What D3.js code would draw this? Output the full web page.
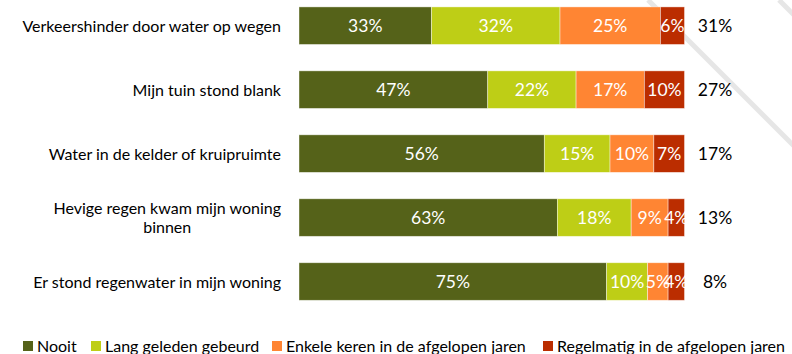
<!DOCTYPE html>
<html>
<head>
<meta charset="utf-8">
<script src="https://cdn.jsdelivr.net/npm/d3@7"></script>
<style>
  html, body { margin: 0; padding: 0; background: #fff; }
  svg { display: block; }
  text { font-family: Lato, "Open Sans", sans-serif; }
</style>
</head>
<body>
<svg id="chart" width="792" height="354"></svg>
<script>
// Categories (top to bottom)
const categories = [
  "Verkeershinder door water op wegen",
  "Mijn tuin stond blank",
  "Water in de kelder of kruipruimte",
  "Hevige regen kwam mijn woning binnen",
  "Er stond regenwater in mijn woning"
];
// Wrapped lines for category labels
const categoryLines = [
  ["Verkeershinder door water op wegen"],
  ["Mijn tuin stond blank"],
  ["Water in de kelder of kruipruimte"],
  ["Hevige regen kwam mijn woning", "binnen"],
  ["Er stond regenwater in mijn woning"]
];

// Series (percentages)
const seriesNames = ["Nooit", "Lang geleden gebeurd", "Enkele keren in de afgelopen jaren", "Regelmatig in de afgelopen jaren"];
const nooit       = [33, 47, 56, 63, 75];
const langGeleden = [32, 22, 15, 18, 10];
const enkele      = [25, 17, 10,  9,  5];
const regelmatig  = [ 6, 10,  7,  4,  4];
// Share "enkele keren" + "regelmatig" shown at the right
const recentTotal = [31, 27, 17, 13, 8];

const colors = ["#556219", "#BECE16", "#FF8533", "#BB2D00"];

const svg = d3.select("#chart");

// Decorative diagonal stripes in the background
const stripes = [[648, 0, 830, 182], [779, 0, 830, 51]];
svg.append("g").selectAll("line").data(stripes).join("line")
  .attr("x1", d => d[0]).attr("y1", d => d[1])
  .attr("x2", d => d[2]).attr("y2", d => d[3])
  .attr("stroke", "#E6E6E6").attr("stroke-width", 5);

// Build rows for stacking (each row scaled to 100%)
const keys = ["nooit", "lang", "enkele", "regelmatig"];
const rows = categories.map((c, i) => ({
  cat: c, nooit: nooit[i], lang: langGeleden[i], enkele: enkele[i], regelmatig: regelmatig[i]
}));
const stacked = d3.stack().keys(keys).offset(d3.stackOffsetExpand)(rows);

const x = d3.scaleLinear().domain([0, 1]).range([299, 684.5]);
const y = d3.scaleBand().domain(categories).range([-6.3, 313.5])
  .paddingInner(0.413).paddingOuter(0.2065);

const layers = svg.append("g").selectAll("g").data(stacked).join("g")
  .attr("fill", (d, i) => colors[i]);

layers.selectAll("rect").data(d => d).join("rect")
  .attr("x", d => x(d[0]))
  .attr("y", d => y(d.data.cat))
  .attr("width", d => x(d[1]) - x(d[0]))
  .attr("height", y.bandwidth())
  .attr("stroke", "#ffffff").attr("stroke-opacity", 0.55).attr("stroke-width", 0.75);

// Value labels inside segments
const labelsG = svg.append("g");
stacked.forEach((layer, li) => {
  labelsG.selectAll(null).data(layer).join("text")
    .attr("x", d => (x(d[0]) + x(d[1])) / 2)
    .attr("y", d => y(d.data.cat) + y.bandwidth() / 2 + 6.5)
    .attr("text-anchor", "middle")
    .attr("fill", "#ffffff")
    .attr("font-size", 17.5)
    .text(d => d.data[keys[li]] + "%");
});

// Totals at the right
svg.append("g").selectAll("text").data(categories).join("text")
  .attr("x", 715)
  .attr("y", c => y(c) + y.bandwidth() / 2 + 6.5)
  .attr("text-anchor", "middle")
  .attr("fill", "#000")
  .attr("font-size", 17.5)
  .text((c, i) => recentTotal[i] + "%");

// Category labels (right-aligned block, wrapped lines centred on each other)
const catG = svg.append("g");
categories.forEach((c, i) => {
  const lines = categoryLines[i];
  const cy = y(c) + y.bandwidth() / 2;
  const lh = 19.5;
  const t = catG.append("text").attr("font-size", 16).attr("fill", "#000");
  lines.forEach((ln, j) => {
    t.append("tspan").text(ln)
      .attr("y", cy + 6 + (j - (lines.length - 1) / 2) * lh);
  });
  const widths = t.selectAll("tspan").nodes().map(n => n.getComputedTextLength());
  const maxW = d3.max(widths);
  const right = 281;
  if (lines.length === 1) {
    t.attr("text-anchor", "end").selectAll("tspan").attr("x", right);
  } else {
    t.attr("text-anchor", "middle").selectAll("tspan").attr("x", right - maxW / 2);
  }
});

// Legend
const legendX = [23, 91, 272, 543];
const leg = svg.append("g").selectAll("g").data(seriesNames).join("g")
  .attr("transform", (d, i) => `translate(${legendX[i]},341)`);
leg.append("rect").attr("width", 10).attr("height", 10).attr("fill", (d, i) => colors[i]);
leg.append("text").attr("x", 14).attr("y", 11).attr("font-size", 16).attr("fill", "#000").text(d => d);
</script>
</body>
</html>
